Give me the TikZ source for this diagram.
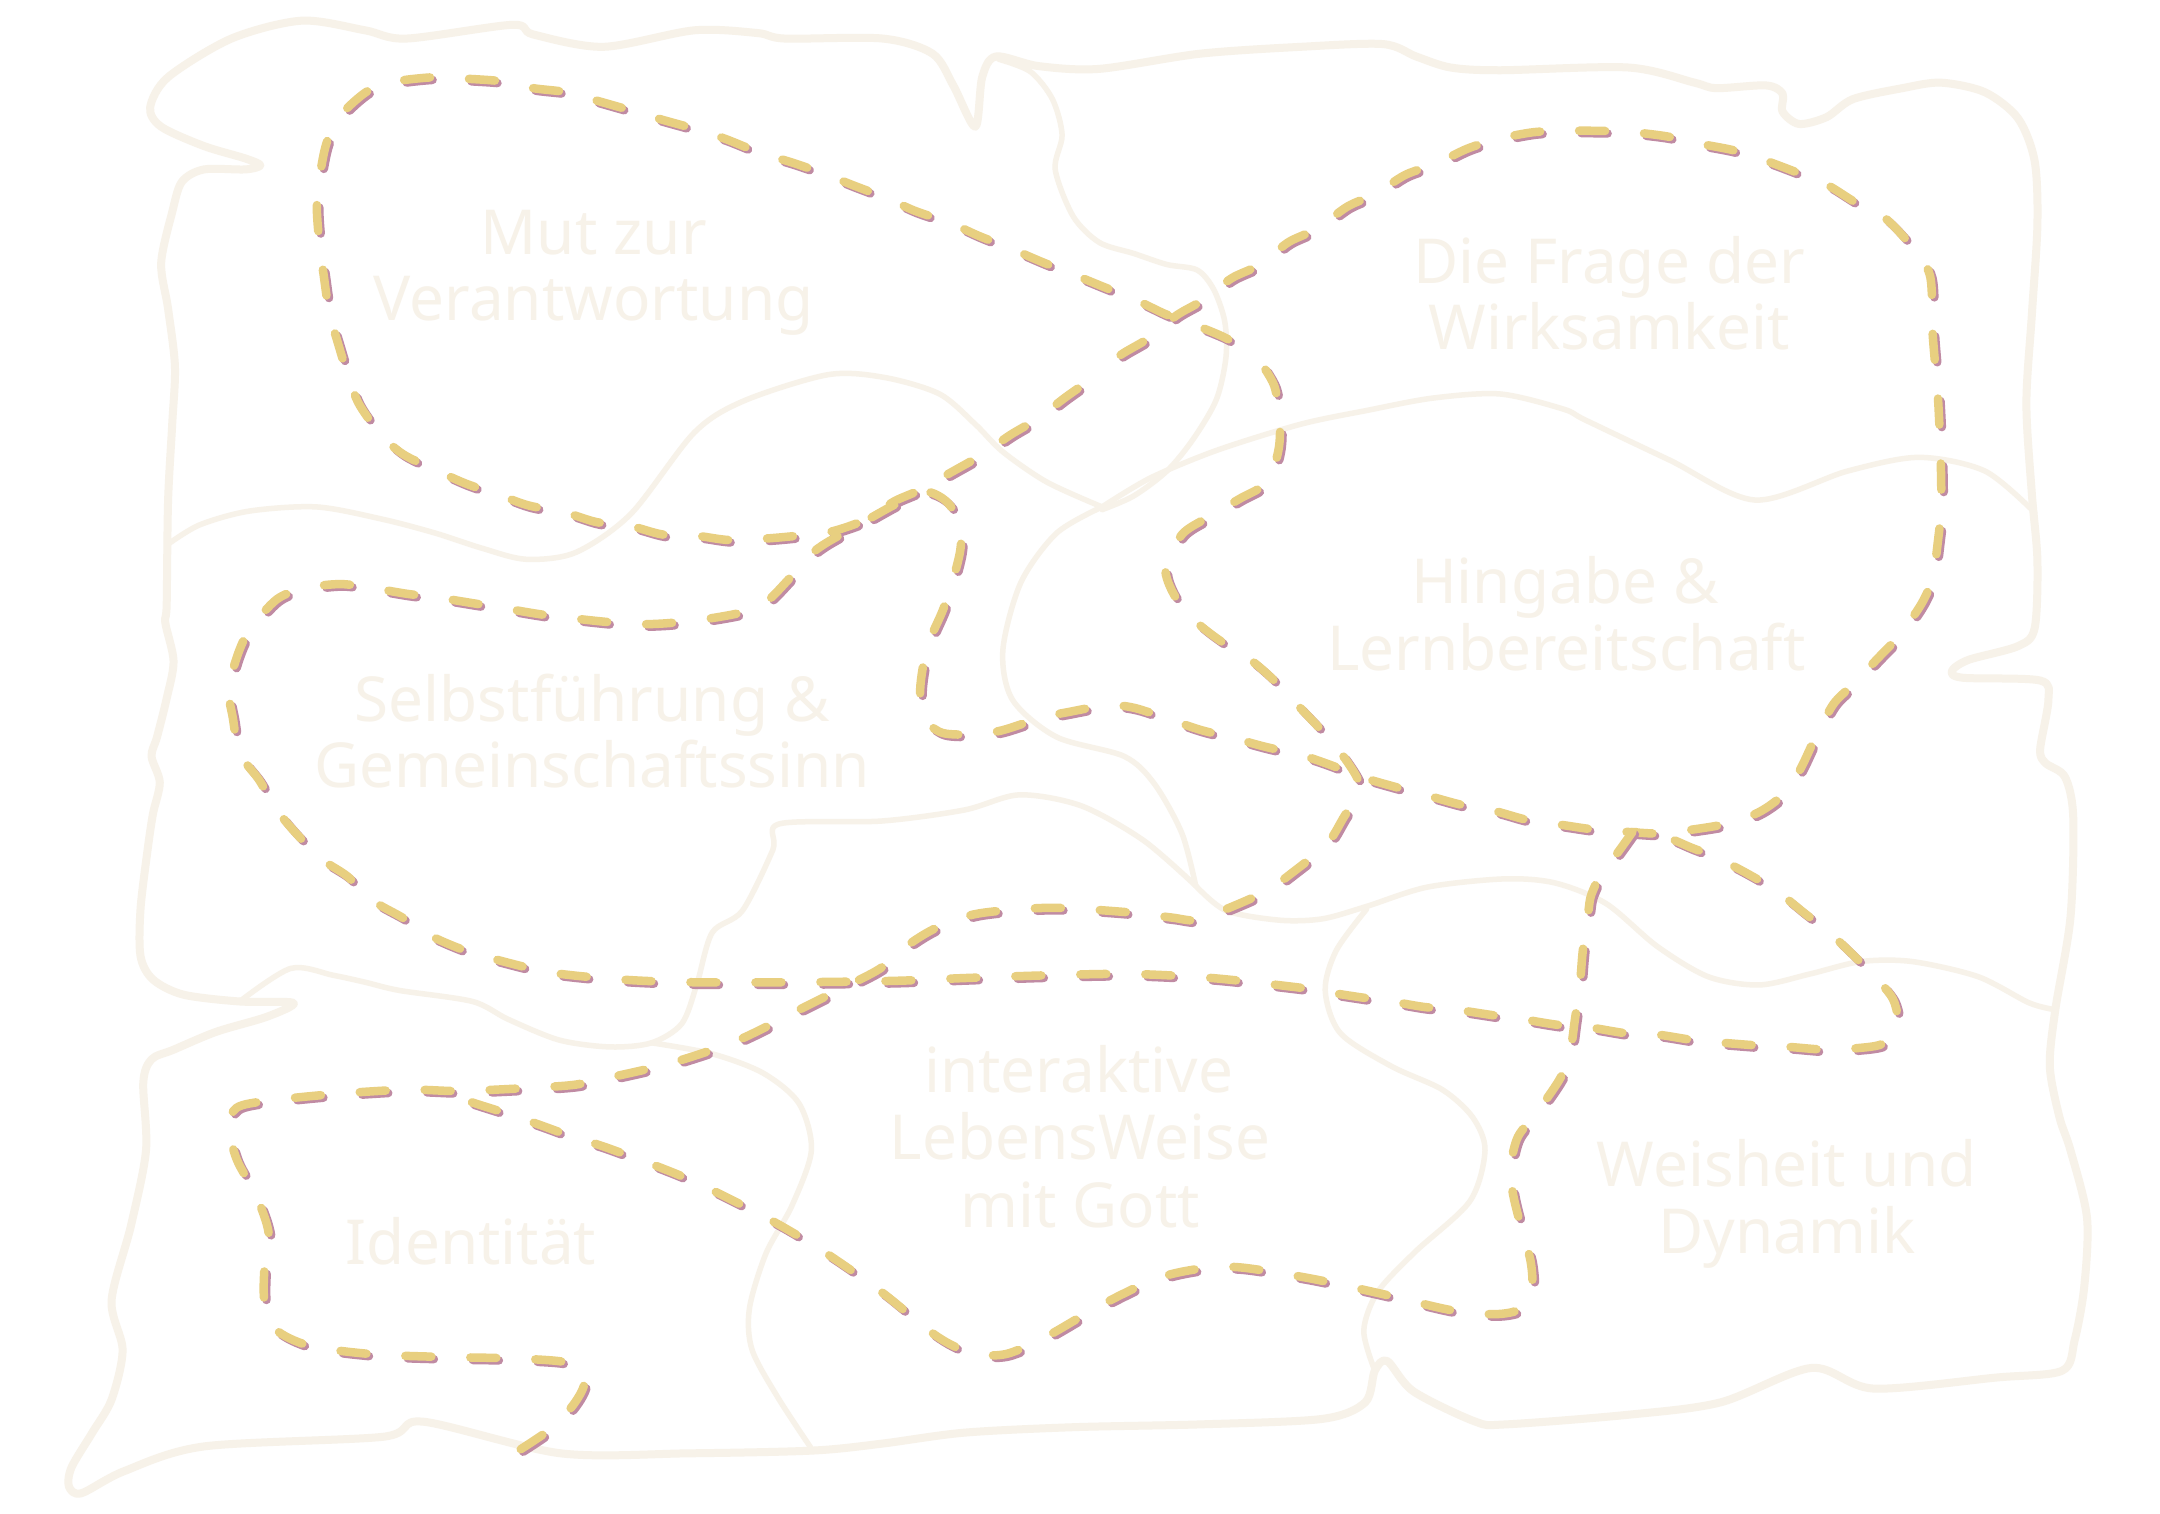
\documentclass[tikz,border=0pt]{standalone}
\usepackage{fontspec}
\setmainfont{Noto Sans}
\definecolor{outl}{HTML}{F7F2E9}
\definecolor{txt}{HTML}{F7F2E9}
\definecolor{dashy}{HTML}{E8CF80}
\definecolor{dashs}{HTML}{C08BA3}
\tikzset{
  outer/.style={draw=outl, line width=8pt, line join=round, line cap=round},
  inner/.style={draw=outl, line width=5.5pt, line join=round, line cap=round},
  lbl/.style={text=txt, font=\fontsize{62}{66}\selectfont, inner sep=0pt, anchor=base},
  dashline/.style={draw=dashy, line width=8.5pt, line cap=round, dash pattern=on 26pt off 39pt, dash phase=#1,
    preaction={draw=dashs, line width=8.5pt, line cap=round, dash pattern=on 26pt off 39pt, dash phase=#1,
      transform canvas={shift={(2.5pt,-2.5pt)}}}},
  dashline/.default=0pt
}
\begin{document}
\begin{tikzpicture}[x=1.3776pt, y=-1.3776pt]
\useasboundingbox (0,0) rectangle (1568,1099);
\fill[white] (0,0) rectangle (1568,1099);

% outer boundary
\draw[outer] plot[smooth cycle, tension=0.5] coordinates {
(109,78) (122,56) (168,28) (219,15) (265,22) (295,28) (372,18) (387,25) (438,34) (504,22) (550,24) (570,28) (641,28) (677,39) (692,62) (708,92) (713,56) (723,41) (754,48) (798,50) (871,39) (944,34) (1004,32) (1028,41) (1053,49) (1089,51) (1182,49) (1230,60) (1246,64) (1282,62) (1294,68) (1294,81) (1306,90) (1326,85) (1345,72) (1381,64) (1409,60) (1441,67) (1465,86) (1477,117) (1479,163) (1475,228) (1471,293) (1475,359) (1479,407) (1477,456) (1465,469) (1429,479) (1417,487) (1425,492) (1481,494) (1487,508) (1481,544) (1485,554) (1499,564) (1505,593) (1503,666) (1492,733) (1488,774) (1495,811) (1503,835) (1515,884) (1513,934) (1506,973) (1497,995) (1449,1000) (1360,1008) (1315,993) (1249,1018) (1182,1027) (1093,1034) (1071,1032) (1026,1010) (1007,988) (998,995) (991,1018) (960,1030) (871,1034) (780,1036) (700,1040) (640,1048) (590,1053) (500,1055) (407,1055) (307,1032) (278,1043) (148,1050) (90,1068) (59,1084) (50,1079) (52,1065) (67,1040) (81,1016) (89,980) (81,944) (95,890) (106,835) (104,786) (110,769) (126,762) (157,749) (194,738) (213,728) (174,727) (133,722) (111,711) (102,694) (102,660) (107,618) (111,591) (116,568) (110,549) (114,535) (121,507) (126,480) (120,452) (121,439) (122,364) (125,308) (127,266) (122,224) (117,191) (125,154) (132,132) (148,123) (178,123) (189,120) (178,115) (148,106) (117,92)};

% inner boundaries
\draw[inner] plot[smooth, tension=0.5] coordinates {(122,395) (145,381) (181,371) (230,368) (278,377) (316,387) (350,398) (382,406) (418,401) (458,373) (504,314) (540,291) (601,272) (642,274) (682,286) (708,308) (728,328) (760,350) (800,368)};
\draw[inner] plot[smooth, tension=0.5] coordinates {(725,43) (748,52) (764,72) (771,98) (766,123) (779,157) (798,176) (823,184) (847,192) (869,196) (881,210) (889,233) (890,259) (883,290) (866,319) (847,342) (823,360) (800,370)};
\draw[inner] plot[smooth, tension=0.5] coordinates {(800,368) (835,347) (883,327) (944,308) (992,298) (1040,289) (1089,286) (1135,297) (1151,305) (1212,334) (1274,363) (1341,342) (1393,332) (1441,342) (1477,372)};
\draw[inner] plot[smooth, tension=0.5] coordinates {(800,368) (767,387) (741,423) (728,472) (735,508) (767,535) (816,549) (838,569) (858,605) (868,643)};
\draw[inner] plot[smooth, tension=0.5] coordinates {(868,643) (890,661) (929,668) (960,667) (992,658) (1036,644) (1092,638) (1129,641) (1166,656) (1203,687) (1240,709) (1277,715) (1314,707) (1351,698) (1388,698) (1436,709) (1473,728) (1492,733)};
\draw[inner] plot[smooth, tension=0.5] coordinates {(992,660) (970,690) (962,719) (973,750) (1010,774) (1047,791) (1069,811) (1078,835) (1067,872) (1027,909) (1000,938) (990,966) (998,995)};
\draw[inner] plot[smooth, tension=0.5] coordinates {(174,727) (211,703) (242,708) (265,713) (290,719) (343,727) (369,740) (406,755) (443,760) (473,757) (495,743) (506,714) (517,677) (539,661) (561,617) (566,598) (640,596) (700,588) (740,577) (785,585) (830,610) (868,643)};
\draw[inner] plot[smooth, tension=0.5] coordinates {(473,757) (517,765) (554,779) (580,801) (589,835) (575,875) (556,910) (544,950) (546,980) (565,1015) (590,1053)};

% labels
\node[lbl] (mut1) at (431,185) {Mut zur};
\node[lbl] (mut2) at (431,233) {Verantwortung};
\node[lbl] (frage1) at (1168,206) {Die Frage der};
\node[lbl] (frage2) at (1168,254) {Wirksamkeit};
\node[lbl] (hing1) at (1136,438) {Hingabe \&};
\node[lbl] (hing2) at (1137,487) {Lernbereitschaft};
\node[lbl] (selb1) at (430,524) {Selbstführung \&};
\node[lbl] (selb2) at (430,572) {Gemeinschaftssinn};
\node[lbl] (inter1) at (783,793) {interaktive};
\node[lbl] (inter2) at (784,842) {LebensWeise};
\node[lbl] (inter3) at (784,891) {mit Gott};
\node[lbl] (ident) at (342,918) {Identität};
\node[lbl] (weis1) at (1297,861) {Weisheit und};
\node[lbl] (weis2) at (1297,910) {Dynamik};

% dashed path
\draw[dashline] plot[smooth, tension=0.5] coordinates {
(378,1052) (400,1037) (416,1020) (424,1005) (420,992) (405,988) (370,986) (320,985) (270,983) (225,977) (200,965) (192,945) (192,920) (195,895) (186,868) (172,842) (166,818) (172,804) (195,799) (245,794) (295,791) (330,792) (360,791) (412,788) (434,784) (486,772) (536,755) (584,731) (612,717) (639,703) (662,684) (683,672) (711,663) (762,659) (816,662) (850,666) (869,668) (890,660) (919,647) (940,632) (963,613) (975,594) (987,572) (978,553) (960,531) (944,514) (926,495) (909,480) (887,466) (869,452) (853,433) (846,412) (858,388) (876,376) (900,362) (920,350) (928,327) (929,306) (925,280) (913,260)};
\draw[dashline=30pt] plot[smooth, tension=0.5] coordinates {
(913,260) (891,246) (870,237) (846,228) (825,218) (798,207) (781,200) (756,190) (735,181) (710,171) (690,162) (664,153) (644,144) (618,134) (598,126) (575,118) (552,111) (527,101) (506,94) (481,87) (461,81) (433,73) (412,67) (387,64) (364,59) (336,57) (316,56) (288,59) (267,66) (247,84) (237,104) (232,129) (230,151) (232,178) (235,200) (239,227) (245,248) (253,274) (261,294) (277,316) (293,330) (318,342) (338,351) (364,360) (384,367) (410,372) (433,379) (458,382) (481,388) (506,389) (529,392) (555,391) (578,389) (603,386) (629,377) (649,364) (667,356) (692,342) (713,330) (733,316) (753,304) (774,288) (794,274)};
\draw[dashline=30pt] plot[smooth, tension=0.5] coordinates {
(794,274) (813,258) (833,246) (854,229) (873,218) (894,202) (915,192) (935,176) (956,166) (978,150) (998,141) (1020,127) (1042,119) (1065,108) (1087,101) (1113,96) (1137,95) (1162,95) (1185,96) (1210,99) (1232,104) (1258,109) (1280,116) (1304,125) (1326,134) (1347,147) (1368,158) (1387,178) (1401,200) (1403,243) (1407,292) (1409,342) (1409,370) (1407,391) (1403,419) (1395,438) (1379,461) (1363,478) (1345,497) (1331,511) (1318,535) (1306,560) (1293,578) (1276,590) (1253,598) (1230,602) (1205,605) (1183,604) (1156,602) (1135,599) (1108,595) (1086,589) (1060,584) (1038,578) (1012,571) (988,564) (965,555) (944,548) (918,542) (896,536) (872,530) (851,523) (824,514) (804,512) (775,517) (756,521) (728,530) (709,533) (684,532) (671,521) (668,500) (673,470) (684,444) (690,427) (697,400) (697,380) (687,364) (672,357) (652,365) (625,380) (600,394) (588,403) (573,420) (555,438) (537,445) (500,451) (460,453) (400,447) (363,441) (344,438) (319,434) (295,431) (271,427) (247,424) (221,427) (201,435) (182,456) (173,474) (166,500) (169,521) (174,547) (188,566) (201,588) (215,605) (234,624) (252,636) (271,654) (292,666) (312,679) (335,689) (358,696) (400,706) (450,711) (500,713) (580,713) (650,712) (700,710) (760,708) (820,707) (880,710) (944,717) (962,720) (988,724) (1010,727) (1034,731) (1057,733) (1084,737) (1106,740) (1131,744) (1155,746) (1180,750) (1203,751) (1229,755) (1251,757) (1277,759) (1299,760) (1325,762) (1347,761) (1368,757) (1377,740) (1374,725) (1362,710) (1347,695) (1328,677) (1310,663) (1290,647) (1270,635) (1247,623) (1227,615) (1205,606) (1185,604)};
\draw[dashline] plot[smooth, tension=0.5] coordinates {
(1185,604) (1175,618) (1162,635) (1155,650) (1153,662) (1149,690) (1147,713) (1143,742) (1140,762) (1133,782) (1116,807) (1102,825) (1097,845) (1098,865) (1104,890) (1111,915) (1112,935) (1104,950) (1085,954) (1053,951) (1002,939) (951,928) (900,920) (871,921) (840,928) (800,947) (760,970) (730,983) (705,982) (680,970) (640,938) (600,910) (560,886) (500,856) (443,834) (415,825) (393,817) (367,808) (345,801) (318,792)};
\end{tikzpicture}
\end{document}
